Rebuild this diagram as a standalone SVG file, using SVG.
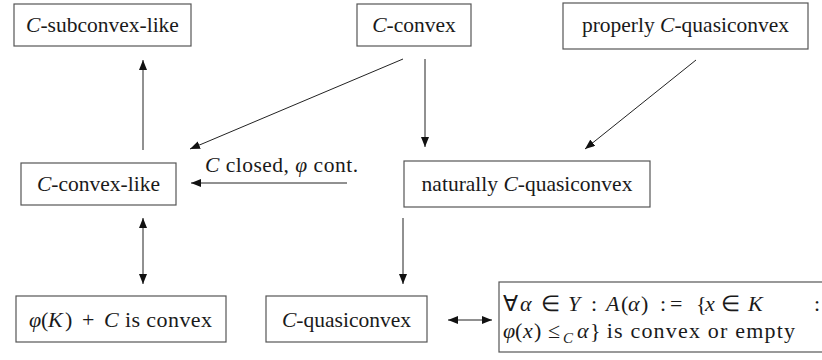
<svg xmlns="http://www.w3.org/2000/svg" width="822" height="360" viewBox="0 0 822 360">
<style>
.box{fill:#fff;stroke:#555;stroke-width:1.2}
.t{font-family:"Liberation Serif","Times New Roman",serif;font-size:21.5px;fill:#1a1a1a}
.m{font-family:"Liberation Serif","Times New Roman",serif;font-size:22px;fill:#1a1a1a}
.i{font-style:italic}
.c{stroke:#222;stroke-width:1;fill:none}
</style>
<defs>
<marker id="ah" viewBox="0 0 10 8" refX="10" refY="4" markerWidth="10" markerHeight="8" markerUnits="userSpaceOnUse" orient="auto-start-reverse">
<path d="M0,0 L10,4 L0,8 Z" fill="#111"/>
</marker>
</defs>
<rect width="822" height="360" fill="#fff"/>
<g id="subconvexlike"><rect class="box" x="14" y="4" width="177" height="42"/><text class="t" x="102.5" y="32" text-anchor="middle"><tspan class="i">C</tspan>-subconvex-like</text></g>
<g id="cconvex"><rect class="box" x="357" y="4" width="114" height="42"/><text class="t" x="414" y="32" text-anchor="middle"><tspan class="i">C</tspan>-convex</text></g>
<g id="properly"><rect class="box" x="563" y="3" width="245" height="46"/><text class="t" x="685.5" y="32" text-anchor="middle">properly <tspan class="i">C</tspan>-quasiconvex</text></g>
<g id="convexlike"><rect class="box" x="21" y="163" width="155" height="42"/><text class="t" x="98.5" y="191" text-anchor="middle"><tspan class="i">C</tspan>-convex-like</text></g>
<g id="naturally"><rect class="box" x="404" y="161" width="246" height="46"/><text class="t" x="527" y="191" text-anchor="middle">naturally <tspan class="i">C</tspan>-quasiconvex</text></g>
<g id="phiK"><rect class="box" x="16" y="296" width="210" height="46"/><text class="m" y="327"><tspan class="i" x="29">φ</tspan><tspan x="41">(</tspan><tspan class="i" x="48">K</tspan><tspan x="65">)</tspan><tspan x="82">+</tspan><tspan class="i" x="104">C</tspan><tspan x="119" textLength="93" lengthAdjust="spacing"> is convex</tspan></text></g>
<g id="quasiconvex"><rect class="box" x="266" y="296" width="161" height="46"/><text class="t" x="346.5" y="327" text-anchor="middle"><tspan class="i">C</tspan>-quasiconvex</text></g>
<g id="levelsets"><rect class="box" x="499" y="282" width="330" height="70"/>
<text class="m" y="311"><tspan x="503">∀</tspan><tspan class="i" x="520">α</tspan><tspan x="541">∈</tspan><tspan class="i" x="568">Y</tspan><tspan x="591">:</tspan><tspan class="i" x="606">A</tspan><tspan x="621">(</tspan><tspan class="i" x="628">α</tspan><tspan x="641">)</tspan><tspan x="660">:</tspan><tspan x="670">=</tspan><tspan x="696">{</tspan><tspan class="i" x="705">x</tspan><tspan x="721">∈</tspan><tspan class="i" x="748">K</tspan><tspan x="814">:</tspan></text>
<text class="m" y="338"><tspan class="i" x="503">φ</tspan><tspan x="515">(</tspan><tspan class="i" x="523">x</tspan><tspan x="534">)</tspan><tspan x="548">≤</tspan><tspan class="i" x="563" dy="5" font-size="15">C</tspan><tspan class="i" x="577" dy="-5">α</tspan><tspan x="590">}</tspan><tspan x="600" textLength="195" lengthAdjust="spacing"> is convex or empty</tspan></text>
</g>
<g id="connectors">
<line class="c" x1="143" y1="150" x2="143" y2="60" marker-end="url(#ah)"/>
<line class="c" x1="403" y1="59" x2="190" y2="149" marker-end="url(#ah)"/>
<line class="c" x1="347" y1="183" x2="191" y2="183" marker-end="url(#ah)"/>
<line class="c" x1="425" y1="59" x2="425" y2="147" marker-end="url(#ah)"/>
<line class="c" x1="696" y1="60" x2="585" y2="149" marker-end="url(#ah)"/>
<line class="c" x1="143" y1="218" x2="143" y2="284" marker-start="url(#ah)" marker-end="url(#ah)"/>
<line class="c" x1="403" y1="218" x2="403" y2="284" marker-end="url(#ah)"/>
<line class="c" x1="448" y1="320" x2="492" y2="320" marker-start="url(#ah)" marker-end="url(#ah)"/>
<text class="t" x="205" y="172" textLength="153" lengthAdjust="spacing"><tspan class="i">C</tspan> closed, <tspan class="i">φ</tspan> cont.</text>
</g>
</svg>
